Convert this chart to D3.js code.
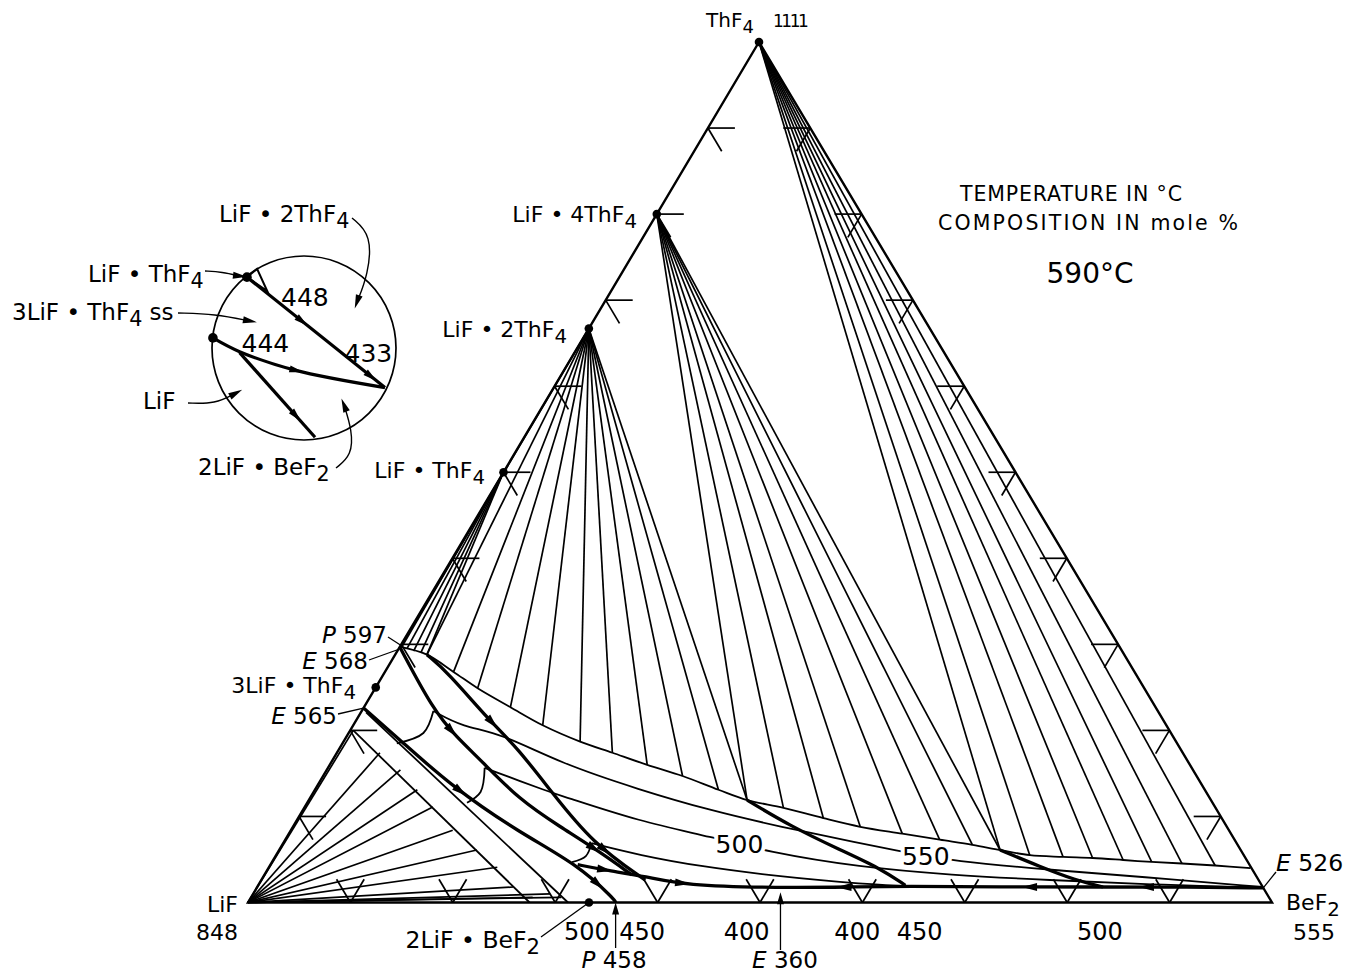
<!DOCTYPE html>
<html>
<head>
<meta charset="utf-8">
<script src="https://cdn.jsdelivr.net/npm/d3@7"></script>
<style>
  body { margin: 0; background: #fff; }
  svg { display: block; }
  text { font-family: "DejaVu Sans", "Liberation Sans", sans-serif; fill: #000; }
</style>
</head>
<body>
<svg id="chart" width="1355" height="976"></svg>
<script>
// LiF–BeF2–ThF4 ternary system. Every composition is [BeF2 mol %, ThF4 mol %]; LiF is the rest.

const gridTicks = [10, 20, 30, 40, 50, 60, 70, 80, 90];

const compounds = [
  { name: "ThF4",      comp: [0, 100] },
  { name: "LiF·4ThF4", comp: [0, 80] },
  { name: "LiF·2ThF4", comp: [0, 66.7] },
  { name: "LiF·ThF4",  comp: [0, 50] },
  { name: "3LiF·ThF4", comp: [0, 25] },
  { name: "2LiF·BeF2", comp: [33.3, 0] }
];

// liquid compositions where the solid–liquid tie lines end
const tieEnds = [
  [0.1, 29.7], [3.1, 28.8], [6.7, 26.8], [10.0, 24.9], [14.3, 22.7], [18.5, 20.6],
  [23.1, 18.7], [26.9, 17.4], [31.0, 16.0], [35.1, 14.7], [39.4, 13.1], [42.8, 11.9],
  [46.8, 11.0], [51.3, 9.8], [55.4, 8.8], [59.9, 8.0], [63.9, 7.3], [67.4, 6.7],
  [70.4, 6.1], [73.6, 5.5], [76.95, 5.3], [79.9, 5.17], [83.0, 4.94], [85.9, 4.71],
  [88.95, 4.53], [92.3, 4.3], [95.9, 4.0]
];

const tiesThF4   = [[70.4, 6.1], [73.6, 5.5], [76.95, 5.3], [79.9, 5.17], [83.0, 4.94], [85.9, 4.71], [88.95, 4.53], [92.3, 4.3]];
const ties1_4    = [[42.8, 11.9], [46.8, 11.0], [51.3, 9.8], [55.4, 8.8], [59.9, 8.0], [63.9, 7.3], [67.4, 6.7], [70.4, 6.1]];
const ties1_2    = [[0.1, 29.7], [3.1, 28.8], [6.7, 26.8], [10.0, 24.9], [14.3, 22.7], [18.5, 20.6], [23.1, 18.7],
                    [26.9, 17.4], [31.0, 16.0], [35.1, 14.7], [39.4, 13.1], [42.8, 11.9]];
const ties1_1    = [[0.2, 29.8], [0.8, 29.5], [1.6, 29.2], [2.4, 29.0], [3.1, 28.8]];
const tiesLiF    = [[0.3, 20.0], [4.2, 17.4], [7.2, 15.4], [10.0, 13.1], [12.5, 11.1], [15.8, 8.4],
                    [19.3, 6.1], [22.3, 4.1], [25.0, 1.8], [27.5, 0.6]];
const ties2LiF   = [[30.3, 0.6], [29.0, 1.0]];

// isotherms: short segments across the LiF-side fields, then along the band to BeF2
const iso550Arc  = [[5.3, 18.5], [7.3, 19.7], [7.0, 22.25]];
const iso550     = [[7.0, 22.25], [10.8, 20.4], [14.8, 19.7], [22.4, 16.2], [31.7, 13.1], [39.8, 10.7], [47.6, 8.8],
                    [56.3, 6.9], [61.0, 5.9], [66.5, 4.8], [76.4, 3.8], [85.6, 3.0], [98.2, 1.8]];
const iso500Arc  = [[15.6, 11.6], [16.3, 12.85], [15.3, 15.65]];
const iso500     = [[15.3, 15.65], [23.4, 12.7], [24.2, 12.5], [33.6, 9.4], [41.6, 7.6], [47.7, 5.9], [57.7, 4.1],
                    [67.0, 3.2], [77.0, 2.6], [87.0, 2.1], [98.3, 1.7]];
const iso450Arc  = [[29.3, 4.7], [30.3, 5.4], [30.1, 6.9]];
const iso450     = [[30.1, 6.9], [35.5, 5.5], [42.0, 4.2], [50.5, 3.0], [58.7, 2.15], [65.7, 1.8]];

// solid solution strip next to the LiF field
const ssLower = [[0.3, 20.0], [27.5, 0]];
const ssUpper = [[0.5, 22.1], [31.25, 0]];

// boundary curves (univariant lines)
const bound14_12  = [[42.8, 11.9], [48.5, 8.9], [54.8, 6.1], [59.7, 4.0], [63.2, 2.0]];
const boundTh_14  = [[70.4, 6.1], [75.2, 4.2], [79.5, 2.6], [82.6, 1.8]];
const boundTrough = [[30.0, 4.4], [32.8, 3.8], [37.5, 3.0], [41.5, 2.0], [51.1, 1.7], [57.9, 1.8], [63.2, 1.9],
                     [72.5, 1.8], [82.6, 1.8], [90.1, 1.8], [98.3, 1.7]];
const bound12_ss  = [[3.1, 28.8], [6.1, 26.8], [13.2, 21.0], [17.2, 18.1], [23.4, 12.7], [30.2, 6.9], [37.5, 2.6]];
const boundP597   = [[0, 29.7], [6.9, 22.4], [10.8, 19.2], [14.4, 16.6], [20.6, 11.9], [26.1, 8.8], [31.4, 5.9], [35.9, 3.2]];
const boundE565   = [[0, 22.6], [5.4, 18.9], [13.3, 13.4], [22.5, 8.1], [30.0, 4.4], [35.7, 0.3], [35.9, 0]];

const flowArrows = [
  { curve: "boundP597", at: 0.3 }, { curve: "bound12_ss", at: 0.3 }, { curve: "boundE565", at: 0.4 },
  { curve: "bound12_ss", at: 0.84 }, { curve: "boundP597", at: 0.86 }, { curve: "boundE565", at: 0.92 },
  { curve: "boundTrough", at: 0.04 }, { curve: "boundTrough", at: 0.155 },
  { curve: "boundTrough", at: 0.39, rev: true }, { curve: "boundTrough", at: 0.66, rev: true },
  { curve: "boundTrough", at: 0.83, rev: true }
];

const isoLabels = [
  { text: "500", comp: [44.6, 6.8] },
  { text: "550", comp: [63.5, 5.4] }
];

const baseTemps = [
  { text: "500", b: 33.1 }, { text: "450", b: 38.5 }, { text: "400", b: 48.7 },
  { text: "400", b: 59.5 }, { text: "450", b: 65.6 }, { text: "500", b: 83.2 }
];

// magnified corner near the LiF–ThF4 edge, in circle units
const insetLineA = [[-0.62, -0.77], [0.88, 0.43]];
const insetLineB = [[-0.99, -0.11], [-0.70, 0.04], [-0.10, 0.24], [0.88, 0.43]];
const insetLineC = [[-0.70, 0.05], [0.12, 0.97]];
const insetWedge = [[-0.62, -0.77], [-0.51, -0.86], [-0.40, -0.62]];
const insetTemps = [{ text: "448", p: [0.01, -0.55] }, { text: "444", p: [-0.42, -0.05] }, { text: "433", p: [0.70, 0.05] }];

// ---------------------------------------------------------------------------
const svg = d3.select("#chart");

const bAxis = d3.scaleLinear().domain([0, 100]).range([0, 1024]);
const cShift = d3.scaleLinear().domain([0, 100]).range([0, 511]);
const cAxis = d3.scaleLinear().domain([0, 100]).range([902.5, 42]);
const xOrigin = 248;
const proj = ([b, c]) => [xOrigin + bAxis(b) + cShift(c), cAxis(c)];

const through = d3.line().x(d => proj(d)[0]).y(d => proj(d)[1]).curve(d3.curveCatmullRom.alpha(0.5));
const smooth = d3.line().x(d => proj(d)[0]).y(d => proj(d)[1]).curve(d3.curveBasis);
const straight = d3.line().x(d => proj(d)[0]).y(d => proj(d)[1]);

const gTies = svg.append("g").attr("stroke", "#000").attr("stroke-width", 1.7).attr("fill", "none");
const fan = (from, ends) => ends.forEach(e => gTies.append("path").attr("d", straight([from, e])));
fan([0, 100], tiesThF4);
fan([0, 80], ties1_4);
fan([0, 66.7], ties1_2);
fan([0, 50], ties1_1);
fan([0, 0], tiesLiF);
fan([0, 0], ties2LiF);

const gThin = svg.append("g").attr("stroke", "#000").attr("stroke-width", 1.8).attr("fill", "none");
gThin.append("path").attr("d", through(tieEnds));
[iso550, iso500, iso450].forEach(c => gThin.append("path").attr("d", smooth(c)));
[iso550Arc, iso500Arc, iso450Arc].forEach(c => gThin.append("path").attr("d", through(c)));
[ssLower, ssUpper].forEach(c => gThin.append("path").attr("d", straight(c)));

const curves = { bound14_12, boundTh_14, boundTrough, bound12_ss, boundP597, boundE565 };
const gThick = svg.append("g").attr("stroke", "#000").attr("stroke-width", 3.3).attr("fill", "none");
const curveNodes = {};
Object.entries(curves).forEach(([k, c]) => { curveNodes[k] = gThick.append("path").attr("d", smooth(c)).node(); });

// downhill arrows on boundary curves
function arrowHead(g, x, y, ang, len, wid) {
  const ca = Math.cos(ang), sa = Math.sin(ang);
  const pts = [[x + ca * len / 2, y + sa * len / 2],
               [x - ca * len / 2 - sa * wid / 2, y - sa * len / 2 + ca * wid / 2],
               [x - ca * len / 2 + sa * wid / 2, y - sa * len / 2 - ca * wid / 2]];
  g.append("path").attr("d", "M" + pts.map(p => p.join(",")).join("L") + "Z").attr("fill", "#000");
}
const gArrows = svg.append("g");
flowArrows.forEach(a => {
  const node = curveNodes[a.curve];
  const L = node.getTotalLength();
  const p = node.getPointAtLength(a.at * L);
  const q = node.getPointAtLength(Math.min(L, a.at * L + 2));
  let ang = Math.atan2(q.y - p.y, q.x - p.x);
  if (a.rev) ang += Math.PI;
  arrowHead(gArrows, p.x, p.y, ang, 15, 8);
});

// triangle frame
svg.append("path").attr("d", straight([[0, 0], [100, 0], [0, 100]]) + "Z")
  .attr("fill", "none").attr("stroke", "#000").attr("stroke-width", 2.4);

// 10 % grid ticks on the edges
const tickLen = 27;
const dirL = [511, -861], dirR = [513, 861];
const unit = v => { const n = Math.hypot(v[0], v[1]); return [v[0] / n, v[1] / n]; };
const uL = unit(dirL), uR = unit(dirR);
const gTicks = svg.append("g").attr("stroke", "#000").attr("stroke-width", 1.7);
const seg = (p, d) => gTicks.append("line").attr("x1", p[0]).attr("y1", p[1])
  .attr("x2", p[0] + d[0] * tickLen).attr("y2", p[1] + d[1] * tickLen);
gridTicks.forEach(t => {
  const pl = proj([0, t]);           // LiF–ThF4 edge
  seg(pl, [1, 0]); seg(pl, uR);
  const pr = proj([100 - t, t]);     // BeF2–ThF4 edge
  seg(pr, [-1, 0]); seg(pr, [-uL[0], -uL[1]]);
  const pb = proj([t, 0]);           // LiF–BeF2 edge
  seg(pb, uL); seg(pb, [-uR[0], -uR[1]]);
});

// compound points
svg.append("g").selectAll("circle").data(compounds).join("circle")
  .attr("cx", d => proj(d.comp)[0]).attr("cy", d => proj(d.comp)[1]).attr("r", 4.3).attr("fill", "#000");

// isotherm labels with a white halo that opens the curve
svg.append("g").selectAll("text").data(isoLabels).join("text")
  .attr("x", d => proj(d.comp)[0]).attr("y", d => proj(d.comp)[1] + 9)
  .attr("text-anchor", "middle").attr("font-size", 25)
  .attr("stroke", "#fff").attr("stroke-width", 8).attr("paint-order", "stroke")
  .text(d => d.text);

// ---------------------------------------------------------------------------
// labels
const SUB = 6;
function label(x, y, parts, opts = {}) {
  const size = opts.size || 22;
  const t = svg.append("text").attr("x", x).attr("y", y).attr("font-size", size)
    .attr("text-anchor", opts.anchor || "start");
  let lowered = false;
  parts.forEach(p => {
    const s = t.append("tspan");
    if (typeof p === "string") { s.text(p); if (lowered) s.attr("dy", -SUB); lowered = false; }
    else if (p.sub) { s.text(p.sub).attr("dy", SUB).attr("font-size", size * 0.9); lowered = true; }
    else if (p.it) { s.text(p.it).attr("font-style", "italic"); if (lowered) s.attr("dy", -SUB); lowered = false; }
  });
  if (opts.width) t.attr("textLength", opts.width).attr("lengthAdjust", "spacing");
  return t;
}
const bullet = " \u2022 ";

label(706, 27, ["ThF", { sub: "4" }], { size: 20 });
label(773, 27, ["1111"], { size: 17 }).attr("letter-spacing", -2.5);
label(637, 222, ["LiF", bullet, "4ThF", { sub: "4" }], { anchor: "end" });
label(567, 337, ["LiF", bullet, "2ThF", { sub: "4" }], { anchor: "end" });
label(485, 478, ["LiF", bullet, "ThF", { sub: "4" }], { anchor: "end" });
label(387, 643, [{ it: "P" }, " 597"], { anchor: "end", size: 23 });
label(368, 669, [{ it: "E" }, " 568"], { anchor: "end", size: 23 });
label(356, 693, ["3LiF", bullet, "ThF", { sub: "4" }], { anchor: "end" });
label(337, 724, [{ it: "E" }, " 565"], { anchor: "end", size: 23 });
label(238, 912, ["LiF"], { anchor: "end" });
label(238, 940, ["848"], { anchor: "end" });
label(540, 948, ["2LiF", bullet, "BeF", { sub: "2" }], { anchor: "end", size: 23.5 });
label(1286, 910, ["BeF", { sub: "2" }]);
label(1335, 940, ["555"], { anchor: "end" });
label(1276, 871, [{ it: "E" }, " 526"], { size: 23.5 });
label(614, 968, [{ it: "P" }, " 458"], { anchor: "middle", size: 23 });
label(785, 968, [{ it: "E" }, " 360"], { anchor: "middle", size: 23 });
label(960, 201, ["TEMPERATURE IN \u00b0C"], { size: 20.5, width: 222 });
label(938, 230, ["COMPOSITION IN mole %"], { size: 20.5, width: 300 });
label(1090, 283, ["590\u00b0C"], { anchor: "middle", size: 28 });

svg.append("g").selectAll("text").data(baseTemps).join("text")
  .attr("x", d => proj([d.b, 0])[0]).attr("y", 940).attr("text-anchor", "middle").attr("font-size", 24)
  .text(d => d.text);

// leader lines and marker arrows
const gLead = svg.append("g").attr("stroke", "#000").attr("stroke-width", 1.3).attr("fill", "none");
const lead = (a, bp) => gLead.append("line").attr("x1", a[0]).attr("y1", a[1]).attr("x2", bp[0]).attr("y2", bp[1]);
lead([388, 637], proj([0, 29.9]));
lead([369, 660], proj([0, 29.4]));
lead([338, 714], proj([0, 22.6]));
lead([541, 937], proj([33.3, 0]));
lead([1276, 872], proj([98.3, 1.7]));
const vArrow = (x, y0, y1) => {
  lead([x, y0], [x, y1 + 8]);
  arrowHead(svg, x, y1 + 6, -Math.PI / 2, 12, 7);
};
vArrow(proj([35.9, 0])[0], 948, proj([35.9, 0])[1]);
vArrow(proj([51.4, 1.2])[0], 950, proj([51.4, 1.2])[1]);

// ---------------------------------------------------------------------------
// inset circle
const inset = svg.append("g");
const ix = d3.scaleLinear().domain([-1, 1]).range([212, 396]);
const iy = d3.scaleLinear().domain([-1, 1]).range([256, 440]);
const iLine = d3.line().x(d => ix(d[0])).y(d => iy(d[1])).curve(d3.curveCatmullRom.alpha(0.5));
inset.append("circle").attr("cx", ix(0)).attr("cy", iy(0)).attr("r", ix(1) - ix(0))
  .attr("fill", "none").attr("stroke", "#000").attr("stroke-width", 1.7);
const iNodes = [insetLineA, insetLineB, insetLineC].map(l =>
  inset.append("path").attr("d", iLine(l)).attr("fill", "none").attr("stroke", "#000").attr("stroke-width", 3.2).node());
inset.append("path").attr("d", d3.line().x(d => ix(d[0])).y(d => iy(d[1]))(insetWedge) + "Z")
  .attr("fill", "none").attr("stroke", "#000").attr("stroke-width", 2);
[[0, 0.4], [0, 0.9], [1, 0.5], [2, 0.75]].forEach(([k, t]) => {
  const n = iNodes[k], L = n.getTotalLength();
  const p = n.getPointAtLength(t * L), q = n.getPointAtLength(t * L + 2);
  arrowHead(inset, p.x, p.y, Math.atan2(q.y - p.y, q.x - p.x), 14, 7);
});
[insetLineA[0], insetLineB[0]].forEach(p =>
  inset.append("circle").attr("cx", ix(p[0])).attr("cy", iy(p[1])).attr("r", 4.8));
inset.selectAll("text.t").data(insetTemps).join("text")
  .attr("x", d => ix(d.p[0])).attr("y", d => iy(d.p[1]) + 9).attr("text-anchor", "middle").attr("font-size", 25)
  .text(d => d.text);

label(219, 222, ["LiF", bullet, "2ThF", { sub: "4" }], { size: 23 });
label(88, 282, ["LiF", bullet, "ThF", { sub: "4" }], { size: 23 });
label(12, 320, ["3LiF", bullet, "ThF", { sub: "4" }, " ss"], { size: 23 });
label(143, 409, ["LiF"], { size: 23 });
label(198, 475, ["2LiF", bullet, "BeF", { sub: "2" }], { size: 23 });

const gCall = svg.append("g").attr("stroke", "#000").attr("stroke-width", 1.4).attr("fill", "none");
const callout = (pts, tipAng) => {
  gCall.append("path").attr("d", d3.line().curve(d3.curveBasis)(pts));
  const e = pts[pts.length - 1];
  arrowHead(svg, e[0], e[1], tipAng, 14, 7);
};
callout([[352, 218], [372, 235], [368, 275], [357, 302]], 1.9);
callout([[205, 271], [222, 272], [240, 276]], 0.12);
callout([[178, 313], [215, 314], [250, 321]], 0.18);
callout([[188, 403], [215, 404], [236, 393]], -0.5);
callout([[336, 468], [352, 455], [352, 430], [344, 405]], -1.95);
</script>
</body>
</html>
